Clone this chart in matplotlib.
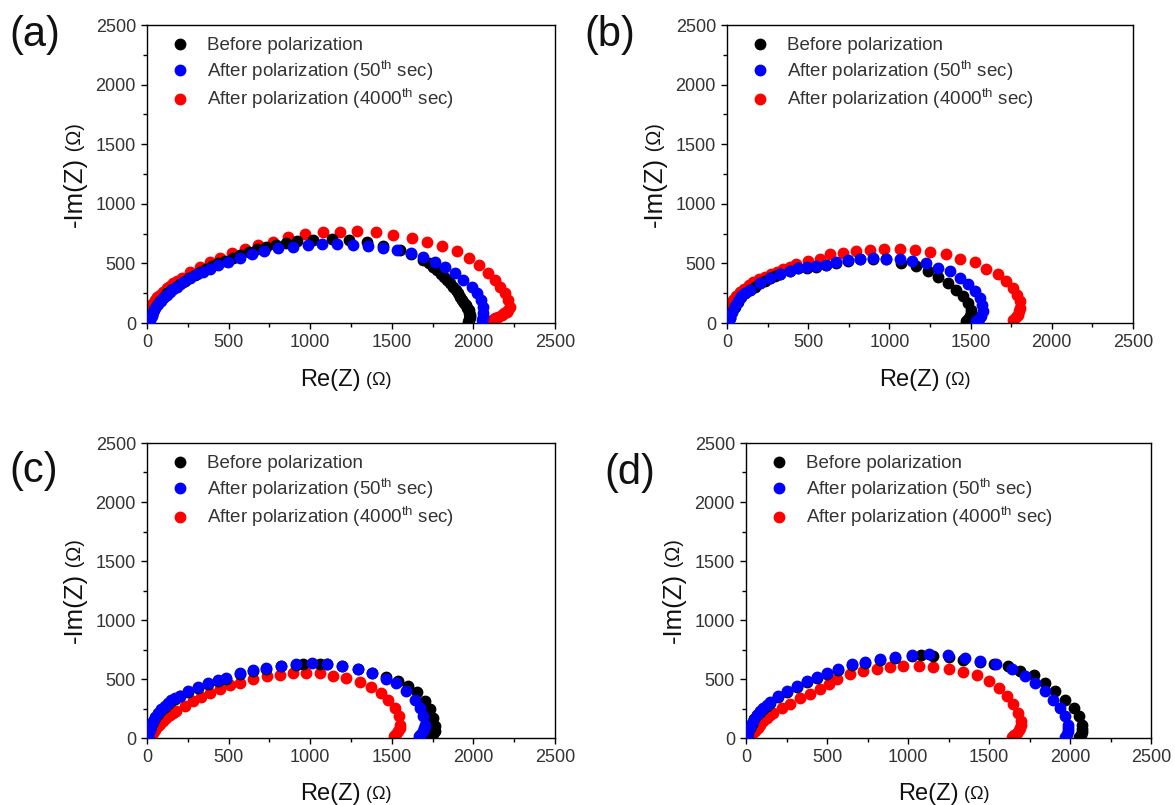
import numpy as np
import matplotlib
matplotlib.use('Agg')
import matplotlib.pyplot as plt
from matplotlib.ticker import MultipleLocator

plt.rcParams['font.family'] = ['Liberation Sans', 'DejaVu Sans']
plt.rcParams['mathtext.fontset'] = 'custom'
plt.rcParams['mathtext.rm'] = 'Liberation Sans'

labels = ['Before polarization',
          r'After polarization (50$^{\mathrm{th}}$ sec)',
          r'After polarization (4000$^{\mathrm{th}}$ sec)']
colors = ['black', '#0000ff', '#ff0000']
panel_names = ['(a)', '(b)', '(c)', '(d)']

# (Re(Z), -Im(Z)) pairs, in ohm
a_before = [(5, 8), (15, 30), (28, 70), (42, 110), (60, 150), (80, 185), (102, 220), (125, 250),
            (150, 280), (175, 305), (202, 330), (230, 355), (260, 380), (292, 405), (325, 428),
            (360, 452), (398, 475), (438, 500), (480, 523), (525, 548), (572, 572), (622, 597),
            (675, 620), (730, 640), (790, 658), (852, 672), (917, 684), (1019, 696), (1131, 702),
            (1240, 696), (1346, 680), (1448, 649), (1548, 610), (1620, 575), (1690, 527),
            (1725, 500), (1750, 472), (1778, 445), (1800, 415), (1822, 388), (1840, 360),
            (1858, 332), (1875, 303), (1891, 276), (1905, 248), (1919, 222), (1932, 195),
            (1944, 170), (1955, 148), (1963, 125), (1970, 105), (1975, 85), (1978, 65),
            (1977, 48), (1975, 35), (1970, 22), (1965, 10)]
a_50 = [(5, 10), (18, 25), (28, 60), (39, 95), (52, 128), (69, 159), (84, 183), (100, 207),
        (120, 236), (141, 263), (161, 285), (181, 305), (222, 347), (263, 380), (304, 408),
        (345, 430), (386, 453), (437, 487), (498, 514), (570, 543), (641, 576), (717, 604),
        (805, 627), (893, 640), (984, 652), (1070, 660), (1166, 663), (1260, 652), (1352, 643),
        (1444, 629), (1530, 612), (1616, 590), (1693, 556), (1765, 514), (1826, 472), (1887, 417),
        (1939, 361), (1989, 305), (2020, 249), (2044, 193), (2057, 137), (2061, 81), (2058, 53),
        (2051, 25)]
a_4000 = [(3, 15), (8, 60), (18, 123), (32, 160), (49, 193), (64, 215), (80, 235), (100, 262),
          (121, 291), (140, 312), (161, 333), (186, 355), (212, 375), (263, 430), (325, 472),
          (386, 509), (447, 548), (518, 590), (600, 621), (682, 654), (774, 682), (866, 724),
          (968, 747), (1076, 761), (1183, 766), (1288, 772), (1403, 761), (1509, 738), (1621, 716),
          (1713, 682), (1809, 649), (1901, 604), (1975, 548), (2036, 487), (2091, 422), (2132, 361),
          (2163, 305), (2194, 249), (2214, 193), (2224, 137), (2215, 112), (2204, 95), (2190, 80),
          (2173, 67), (2152, 52), (2132, 39), (2115, 25), (2102, 11)]

b_before = [(5, 8), (17, 40), (30, 90), (47, 136), (66, 180), (89, 220), (113, 250), (140, 276),
            (170, 305), (201, 332), (232, 353), (263, 374), (294, 393), (325, 410), (386, 435),
            (437, 458), (490, 465), (550, 472), (612, 486), (674, 505), (745, 522), (817, 533),
            (899, 541), (981, 533), (1074, 505), (1166, 476), (1238, 435), (1299, 387),
            (1361, 337), (1413, 281), (1453, 225), (1484, 169), (1505, 113), (1500, 85),
            (1494, 57), (1485, 35), (1474, 15)]
b_50 = [(5, 10), (17, 43), (30, 95), (47, 141), (66, 185), (89, 225), (113, 255), (140, 281),
        (201, 337), (263, 379), (325, 415), (386, 440), (437, 463), (490, 470), (550, 476),
        (612, 490), (674, 510), (745, 527), (817, 538), (899, 547), (981, 541), (1063, 533),
        (1142, 519), (1224, 505), (1299, 463), (1371, 435), (1433, 379), (1484, 323), (1525, 267),
        (1556, 211), (1572, 155), (1576, 99), (1566, 57), (1552, 35), (1536, 15)]
b_4000 = [(3, 15), (8, 60), (15, 105), (25, 150), (40, 190), (58, 225), (80, 258), (105, 288),
          (133, 315), (163, 340), (196, 365), (231, 390), (268, 412), (306, 432), (345, 452),
          (386, 472), (427, 491), (499, 519), (571, 538), (632, 575), (714, 589), (797, 602),
          (879, 611), (965, 617), (1063, 617), (1160, 611), (1248, 597), (1347, 575), (1433, 538),
          (1525, 510), (1597, 457), (1669, 407), (1720, 351), (1761, 295), (1788, 239),
          (1802, 183), (1806, 127), (1800, 99), (1791, 71), (1778, 50), (1761, 29)]

c_before = [(4, 10), (16, 65), (26, 100), (37, 135), (51, 172), (67, 206), (87, 235), (108, 261),
            (128, 286), (149, 310), (174, 332), (200, 352), (251, 389), (312, 426), (374, 454),
            (435, 482), (487, 502), (568, 545), (650, 567), (731, 587), (820, 606), (911, 621),
            (955, 630), (1060, 630), (1105, 625), (1197, 610), (1293, 585), (1381, 553),
            (1467, 515), (1538, 480), (1600, 440), (1655, 390), (1702, 312), (1733, 242),
            (1753, 171), (1767, 100), (1765, 60), (1755, 30), (1743, 10)]
c_50 = [(4, 15), (16, 72), (26, 108), (37, 142), (51, 180), (67, 214), (87, 243), (108, 269),
        (128, 294), (149, 318), (174, 340), (200, 360), (251, 397), (312, 434), (374, 462),
        (435, 490), (487, 510), (568, 553), (650, 575), (731, 595), (820, 614), (911, 629),
        (1009, 637), (1105, 631), (1197, 614), (1293, 586), (1381, 553), (1463, 502), (1528, 462),
        (1590, 397), (1640, 326), (1671, 256), (1691, 185), (1702, 114), (1700, 86), (1691, 58),
        (1680, 35), (1667, 15)]
c_4000 = [(20, 10), (37, 44), (52, 72), (67, 100), (82, 121), (98, 142), (118, 167), (139, 191),
          (160, 212), (180, 233), (231, 275), (282, 312), (333, 349), (384, 383), (446, 417),
          (507, 445), (568, 468), (650, 496), (736, 524), (818, 538), (896, 547), (977, 553),
          (1058, 547), (1140, 524), (1222, 510), (1304, 473), (1375, 434), (1431, 383),
          (1477, 326), (1518, 256), (1545, 185), (1553, 114), (1550, 86), (1538, 58), (1525, 35),
          (1512, 15)]

d_before = [(4, 10), (14, 52), (24, 88), (35, 122), (50, 158), (66, 192), (86, 221), (107, 249),
            (128, 273), (148, 296), (200, 347), (251, 390), (313, 432), (375, 474), (437, 508),
            (498, 546), (570, 574), (653, 615), (735, 636), (828, 663), (920, 680), (1024, 695),
            (1078, 700), (1157, 697), (1250, 688), (1342, 665), (1445, 640), (1528, 630),
            (1620, 609), (1693, 566), (1775, 538), (1847, 468), (1909, 397), (1971, 326),
            (2022, 256), (2053, 185), (2074, 114), (2076, 80), (2074, 50), (2066, 28), (2053, 10)]
d_50 = [(4, 15), (14, 58), (24, 94), (35, 129), (50, 165), (66, 199), (86, 228), (107, 256),
        (128, 280), (148, 303), (200, 354), (251, 397), (313, 439), (375, 481), (437, 515),
        (498, 553), (570, 581), (653, 623), (735, 643), (828, 671), (920, 688), (1024, 702),
        (1132, 708), (1244, 702), (1353, 680), (1445, 651), (1544, 623), (1641, 581), (1724, 524),
        (1785, 468), (1847, 397), (1898, 326), (1940, 256), (1971, 185), (1985, 114), (1987, 86),
        (1987, 58), (1980, 32), (1971, 10)]
d_4000 = [(20, 10), (40, 30), (56, 58), (71, 86), (86, 114), (107, 142), (128, 171), (148, 192),
          (169, 214), (220, 256), (272, 292), (334, 341), (395, 377), (457, 417), (510, 455),
          (560, 500), (642, 540), (725, 566), (807, 586), (890, 600), (972, 609), (1065, 609),
          (1157, 600), (1250, 586), (1339, 561), (1425, 530), (1497, 481), (1559, 425),
          (1610, 354), (1651, 284), (1682, 214), (1699, 142), (1696, 114), (1693, 86),
          (1683, 65), (1672, 44), (1657, 25), (1641, 10)]

panels = [[a_before, a_50, a_4000],
          [b_before, b_50, b_4000],
          [c_before, c_50, c_4000],
          [d_before, d_50, d_4000]]

W, H = 1175, 805
# axes boxes in pixels: left, top, right, bottom
boxes = [(147, 25, 555, 323), (727, 25, 1133, 323),
         (147, 443, 555, 738), (746, 443, 1151, 738)]
tag_pos = [(9, 35), (584, 35), (9, 471), (604, 473)]
zorders = [3, 4, 2]

fig = plt.figure(figsize=(W / 100, H / 100), dpi=100)

for i, series in enumerate(panels):
    l, t, r, b = boxes[i]
    ax = fig.add_axes([l / W, 1 - b / H, (r - l) / W, (b - t) / H])
    for k, pts in enumerate(series):
        x, y = np.array(pts).T
        ax.plot(x, y, 'o', color=colors[k], mec=colors[k], ms=7.5, ls='none',
                label=labels[k], zorder=zorders[k])
    ax.set_xlim(0, 2500)
    ax.set_ylim(0, 2500)
    ax.xaxis.set_major_locator(MultipleLocator(500))
    ax.yaxis.set_major_locator(MultipleLocator(500))
    ax.xaxis.set_minor_locator(MultipleLocator(250))
    ax.yaxis.set_minor_locator(MultipleLocator(250))
    ax.tick_params(which='both', direction='out', top=False, right=False,
                   labelsize=13, labelcolor='#333333', width=1)
    ax.tick_params(which='major', length=4.5)
    ax.tick_params(which='minor', length=3)
    for s in ax.spines.values():
        s.set_linewidth(1)

    # axis labels with the smaller ohm sign
    tx = ax.text(0.45, -0.19, 'Re(Z)', transform=ax.transAxes, ha='center', va='center',
                 fontsize=17, color='#111111')
    ax.annotate(' (Ω)', xy=(1, 0.08), xycoords=tx, ha='left', va='bottom',
                fontsize=13, color='#111111')
    ty = ax.text(-0.177, 0.44, '-Im(Z)', transform=ax.transAxes, ha='center', va='center',
                 rotation=90, fontsize=18.5, color='#111111')
    ax.annotate(' (Ω)', xy=(0.92, 1), xycoords=ty, ha='right', va='bottom',
                rotation=90, fontsize=14.5, color='#111111')

    leg = ax.legend(loc='upper left', bbox_to_anchor=(0, 0.99), frameon=False,
                    fontsize=13.5, numpoints=1, borderaxespad=0.2, borderpad=0.28,
                    handlelength=2.56, handletextpad=0.15, labelspacing=0.2)
    for txt in leg.get_texts():
        txt.set_color('#333333')

    px, py = tag_pos[i]
    fig.text(px / W, 1 - py / H, panel_names[i], fontsize=30, ha='left', va='center',
             color='#111111')

fig.savefig('out.png', dpi=100)
